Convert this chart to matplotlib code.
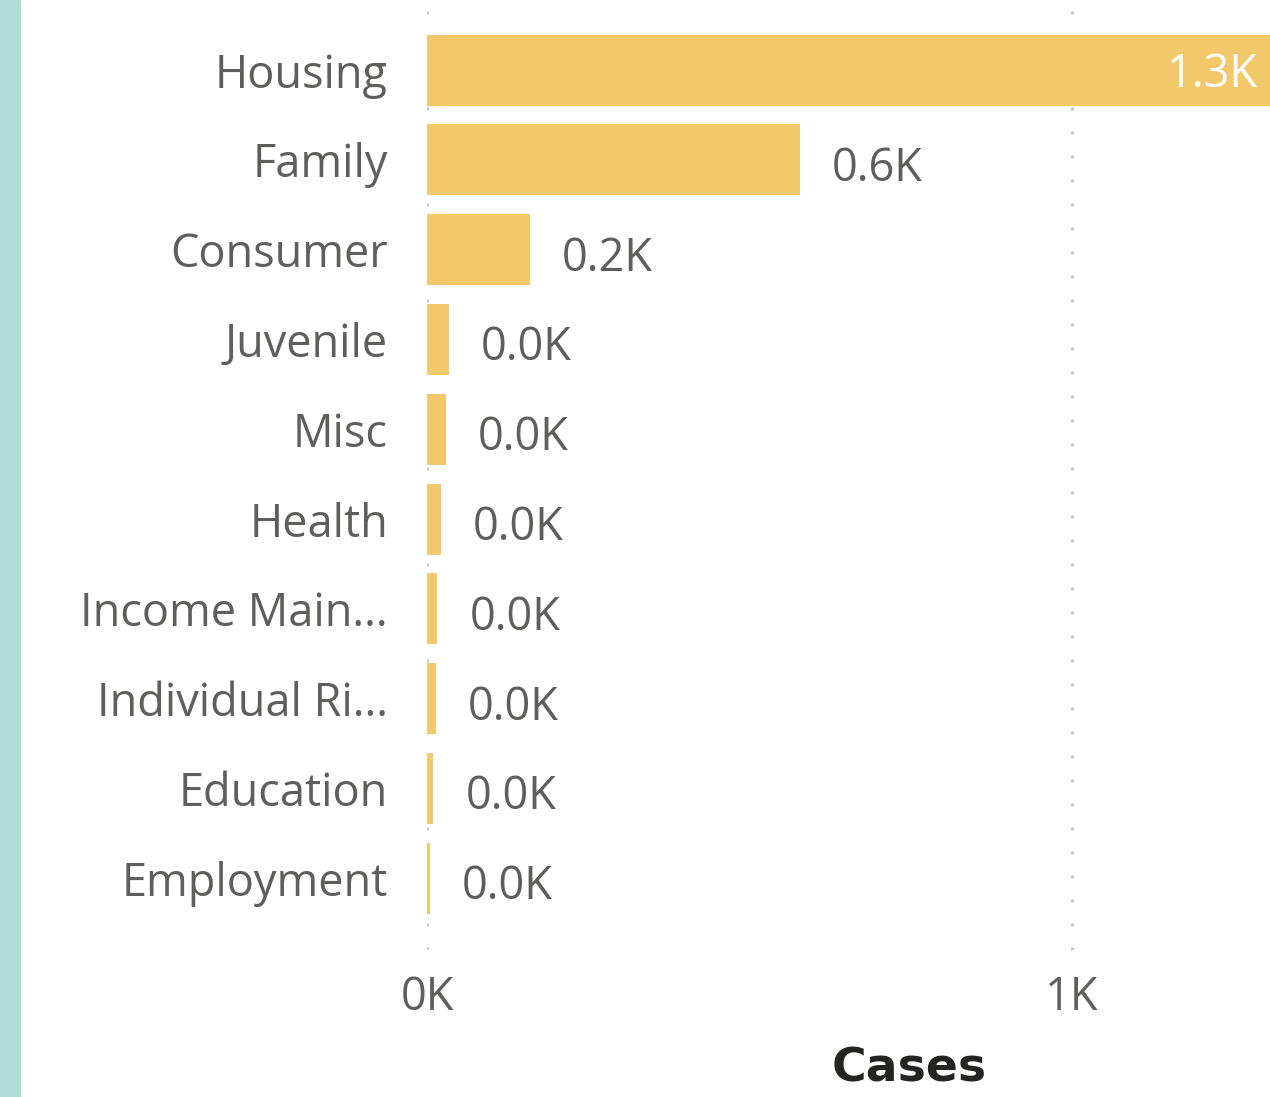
import matplotlib
matplotlib.use("Agg")
import matplotlib.pyplot as plt
from matplotlib.patches import Rectangle

categories = ["Housing", "Family", "Consumer", "Juvenile", "Misc", "Health",
              "Income Main...", "Individual Ri...", "Education", "Employment"]
values = [1330, 578, 160, 34, 29, 22, 16, 14, 10, 5]
labels = ["1.3K", "0.6K", "0.2K", "0.0K", "0.0K", "0.0K", "0.0K", "0.0K", "0.0K", "0.0K"]
tick_vals = [0, 1000]
tick_labels = ["0K", "1K"]

FONT = ["Open Sans", "DejaVu Sans"]
TXT = "#605E5C"
BAR = "#F2C86B"
FS = 32.5

W, H = 1270, 1097
fig = plt.figure(figsize=(W / 100, H / 100), dpi=100)
fig.patches.append(Rectangle((0, 0), 20 / W, 1, transform=fig.transFigure,
                             color="#AEDCD7", zorder=0))

ax = fig.add_axes([427 / W, 1 - 950 / H, 1 - 427 / W, (950 - 10) / H])
y = list(range(len(categories)))
ax.barh(y, values, height=0.79, color=BAR, zorder=2)
ax.set_xlim(0, (1270 - 427) / 645 * 1000)
ax.set_ylim(9.8, -0.67)

for v in tick_vals:
    ax.axvline(v, color="#C8C6C4", lw=2.16, linestyle=(0, (1, 7)), zorder=1)

ax.set_yticks(y)
ax.set_yticklabels(categories, fontsize=FS, color=TXT, family=FONT)
ax.set_xticks(tick_vals)
ax.set_xticklabels(tick_labels, fontsize=FS, color=TXT, family=FONT)
ax.tick_params(axis="y", length=0, pad=28)
ax.tick_params(axis="x", length=0, pad=18)
for s in ax.spines.values():
    s.set_visible(False)

xmax = ax.get_xlim()[1]
for yi, v, lab in zip(y, values, labels):
    if v > xmax * 0.9:
        ax.text(xmax - 12 / 645 * 1000, yi + 0.05, lab, ha="right", va="center",
                fontsize=FS, color="white", family=FONT, zorder=3)
    else:
        ax.text(v + 32 / 645 * 1000, yi + 0.1, lab, ha="left", va="center",
                fontsize=FS, color=TXT, family=FONT, zorder=3)

fig.text(909 / W, 1 - 1069 / H, "Cases", ha="center", va="center",
         fontsize=34, fontweight="bold", color="#252423", family=["DejaVu Sans"])

fig.savefig("out.png", dpi=100)
